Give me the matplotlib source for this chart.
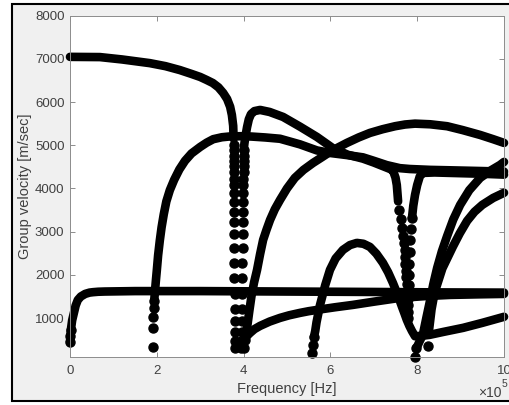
import numpy as np
import matplotlib
matplotlib.use("Agg")
import matplotlib.pyplot as plt
from matplotlib.patches import Rectangle

plt.rcParams['font.family'] = ['Liberation Sans', 'DejaVu Sans']

# frequencies in units of 1e5 Hz, group velocities in m/s
# continuous parts are drawn as thick lines, steep parts as separate dots
a0_f = [0.0, 0.01, 0.02, 0.05, 0.09, 0.13, 0.18, 0.25, 0.35, 0.45, 0.53, 0.65,
        0.8, 1.5, 3.0, 5.0, 7.0, 8.5, 10.0]
a0_v = [450, 590, 730, 950, 1120, 1290, 1420, 1500, 1560, 1590, 1600, 1610,
        1615, 1625, 1625, 1615, 1605, 1595, 1590]
a0_dot_f = [0.0, 0.01, 0.02]
a0_dot_v = [450, 590, 730]

s0_f = [0.0, 0.69, 1.2, 1.84, 2.2, 2.53, 2.8, 3.0, 3.15, 3.29, 3.42, 3.53,
        3.62, 3.69, 3.73, 3.76, 3.77]
s0_v = [7045, 7040, 6985, 6900, 6830, 6740, 6650, 6580, 6510, 6440, 6340, 6210,
        6070, 5890, 5700, 5450, 5150]
s0_dot_f = [3.77, 3.77, 3.77, 3.77, 3.78, 3.78, 3.78, 3.78, 3.78, 3.78, 3.78,
            3.79, 3.79, 3.79, 3.79, 3.79, 3.80, 3.80, 3.80, 3.80, 3.80, 3.80]
s0_dot_v = [5000, 4880, 4760, 4640, 4510, 4370, 4230, 4070, 3890, 3690, 3460,
            3220, 2940, 2620, 2280, 1920, 1560, 1220, 930, 690, 480, 300]

a1_dot_f = [1.91, 1.91, 1.92, 1.93, 1.94]
a1_dot_v = [335, 775, 1030, 1240, 1400]
a1_f = [1.94, 1.96, 1.98, 2.0, 2.03, 2.07, 2.11, 2.16, 2.22, 2.3, 2.4, 2.52,
        2.65, 2.8, 3.0, 3.15, 3.3, 3.5, 3.7, 4.0, 4.2, 4.5, 4.84, 5.3, 5.69,
        6.0, 6.4, 6.75, 7.0, 7.3, 7.6, 7.83, 8.3, 8.76, 9.4, 10.0]
a1_v = [1400, 1650, 1880, 2100, 2450, 2800, 3100, 3400, 3700, 3960, 4200, 4440,
        4640, 4810, 4961, 5060, 5140, 5185, 5205, 5210, 5200, 5180, 5150, 5020,
        4880, 4820, 4770, 4720, 4640, 4540, 4470, 4450, 4430, 4420, 4405, 4390]

m4_dot_f = [3.95, 3.95, 3.96, 3.96, 3.96, 3.97, 3.97, 3.97, 3.98, 3.98, 3.98,
            3.98, 3.99, 3.99, 3.99, 3.99, 4.0, 4.0, 4.0, 4.0, 4.0]
m4_dot_v = [300, 480, 690, 930, 1220, 1560, 1920, 2280, 2620, 2940, 3220,
            3460, 3690, 3890, 4070, 4230, 4370, 4510, 4640, 4760, 4880]
m4_f = [4.0, 4.02, 4.05, 4.08, 4.12, 4.17, 4.25, 4.38, 4.6, 4.91, 5.3, 5.69,
        6.06, 6.4, 6.75, 7.0, 7.2, 7.35, 7.44, 7.50, 7.53, 7.56]
m4_v = [4880, 5050, 5250, 5420, 5600, 5720, 5790, 5817, 5770, 5655, 5430, 5192,
        4930, 4780, 4690, 4600, 4520, 4460, 4420, 4250, 4080, 3700]
u_left_f = [7.59, 7.62, 7.65, 7.67, 7.69, 7.71, 7.72, 7.73, 7.74, 7.75, 7.76,
            7.77, 7.78, 7.78, 7.79]
u_left_v = [3500, 3300, 3080, 2900, 2740, 2580, 2420, 2260, 2100, 1940, 1780,
            1620, 1460, 1300, 1150]
u_right_f = [7.79, 7.79, 7.80, 7.81, 7.82, 7.83, 7.845, 7.86, 7.88]
u_right_v = [1000, 1450, 1770, 2000, 2250, 2530, 2800, 3060, 3320]
m4b_f = [7.88, 7.91, 7.95, 8.0, 8.06, 8.13, 8.4, 8.76, 9.5, 10.0]
m4b_v = [3320, 3600, 3850, 4080, 4280, 4360, 4370, 4360, 4340, 4320]

d_dot_f = [4.0, 4.03]
d_dot_v = [310, 500]
d_f = [4.03, 4.06, 4.09, 4.13, 4.18, 4.24, 4.31, 4.38, 4.45, 4.53, 4.61, 4.72,
       4.84, 5.0, 5.18, 5.38, 5.6, 5.8, 5.99, 6.18, 6.38, 6.65, 6.91, 7.2, 7.49,
       7.72, 7.95, 8.3, 8.69, 9.05, 9.45, 9.75, 10.0]
d_v = [500, 650, 850, 1150, 1500, 1820, 2116, 2480, 2810, 3050, 3272, 3520,
       3735, 4000, 4244, 4430, 4591, 4720, 4845, 4950, 5054, 5180, 5285, 5370,
       5440, 5480, 5500, 5485, 5440, 5350, 5238, 5140, 5054]

e_f = [4.03, 4.08, 4.15, 4.25, 4.38, 4.6, 4.84, 5.05, 5.3, 5.5, 5.76, 6.1, 6.52,
       7.0, 7.6, 8.2, 8.76, 9.4, 10.0]
e_v = [497, 590, 659, 745, 820, 920, 1005, 1065, 1121, 1160, 1200, 1250, 1306,
       1380, 1468, 1510, 1537, 1550, 1560]

g_dot_f = [5.58, 5.6, 5.62]
g_dot_v = [196, 381, 560]
g_f = [5.62, 5.65, 5.68, 5.72, 5.76, 5.81, 5.88, 5.99, 6.12, 6.29, 6.45, 6.61,
       6.76, 6.91, 7.06, 7.21, 7.33, 7.44, 7.55, 7.65, 7.71, 7.76, 7.82, 7.88,
       7.95, 8.1, 8.29, 8.6, 9.06, 9.5, 10.0]
g_v = [560, 700, 900, 1100, 1300, 1490, 1760, 2116, 2380, 2579, 2690, 2740,
       2720, 2648, 2490, 2278, 2060, 1815, 1540, 1260, 1100, 960, 820, 700,
       580, 590, 613, 680, 775, 890, 1030]

f_dot_f = [7.95, 7.98]
f_dot_v = [110, 300]
f_f = [7.98, 8.05, 8.13, 8.21, 8.29, 8.37, 8.46, 8.57, 8.69, 8.83, 8.99, 9.2,
       9.45, 9.7, 9.91, 10.0]
f_v = [300, 450, 613, 1000, 1376, 1780, 2162, 2550, 2900, 3280, 3620, 3960,
       4244, 4420, 4545, 4614]

h_dot_f = [8.25]
h_dot_v = [358]
h_f = [8.27, 8.3, 8.33, 8.37, 8.42, 8.5, 8.58, 8.7, 8.82, 8.98, 9.15, 9.32,
       9.5, 9.75, 10.0]
h_v = [700, 950, 1200, 1420, 1650, 1900, 2150, 2400, 2650, 2960, 3250, 3460,
       3620, 3780, 3900]

x_ticks = [0, 2, 4, 6, 8, 10]
y_ticks = [1000, 2000, 3000, 4000, 5000, 6000, 7000, 8000]

fig = plt.figure(figsize=(5.09, 4.05), dpi=100, facecolor='white')
fig.patches.append(Rectangle((12 / 509, 4 / 405), 1.0, 397 / 405,
                             transform=fig.transFigure, facecolor='#f0f0f0',
                             edgecolor='black', lw=1.5, zorder=-1))
ax = fig.add_axes([70 / 509, 48 / 405, 434 / 509, 341.4 / 405])
ax.set_facecolor('white')

lines = [(a0_f, a0_v), (s0_f, s0_v), (a1_f, a1_v), (m4_f, m4_v), (m4b_f, m4b_v),
         (d_f, d_v), (e_f, e_v), (g_f, g_v), (f_f, f_v), (h_f, h_v)]
dots = [(a0_dot_f, a0_dot_v), (s0_dot_f, s0_dot_v), (a1_dot_f, a1_dot_v),
        (m4_dot_f, m4_dot_v), (u_left_f, u_left_v), (u_right_f, u_right_v),
        (d_dot_f, d_dot_v), (g_dot_f, g_dot_v), (f_dot_f, f_dot_v),
        (h_dot_f, h_dot_v)]

for fx, vy in lines:
    ax.plot(np.array(fx) * 1e5, vy, color='black', lw=6.2,
            solid_capstyle='round', solid_joinstyle='round', clip_on=False)
for fx, vy in dots:
    ax.plot(np.array(fx) * 1e5, vy, 'o', color='black', ms=6.5, clip_on=False)

ax.set_xlim(0, 1e6)
ax.set_ylim(100, 8000)
ax.set_xticks(np.array(x_ticks) * 1e5)
ax.set_xticklabels([str(t) for t in x_ticks])
ax.set_yticks(y_ticks)
ax.set_yticklabels([str(t) for t in y_ticks])

for sp in ax.spines.values():
    sp.set_color('#8c8c8c')
    sp.set_linewidth(0.7)
ax.tick_params(direction='in', top=True, right=True, length=3.5, width=0.7,
               color='#8c8c8c', labelcolor='#404040', labelsize=9.5, pad=4)
ax.tick_params(axis='x', pad=6)

ax.set_xlabel('Frequency [Hz]', fontsize=10.5, color='#404040', labelpad=3)
ax.set_ylabel('Group velocity [m/sec]', fontsize=10.5, color='#404040', labelpad=2)

fig.text(502 / 509, 1 - 397 / 405, '\u00d710', fontsize=10, color='#404040',
         ha='right', va='baseline')
fig.text(502 / 509, 1 - 387 / 405, '5', fontsize=7.5, color='#404040',
         ha='left', va='baseline')

fig.savefig('out.png', dpi=100)
